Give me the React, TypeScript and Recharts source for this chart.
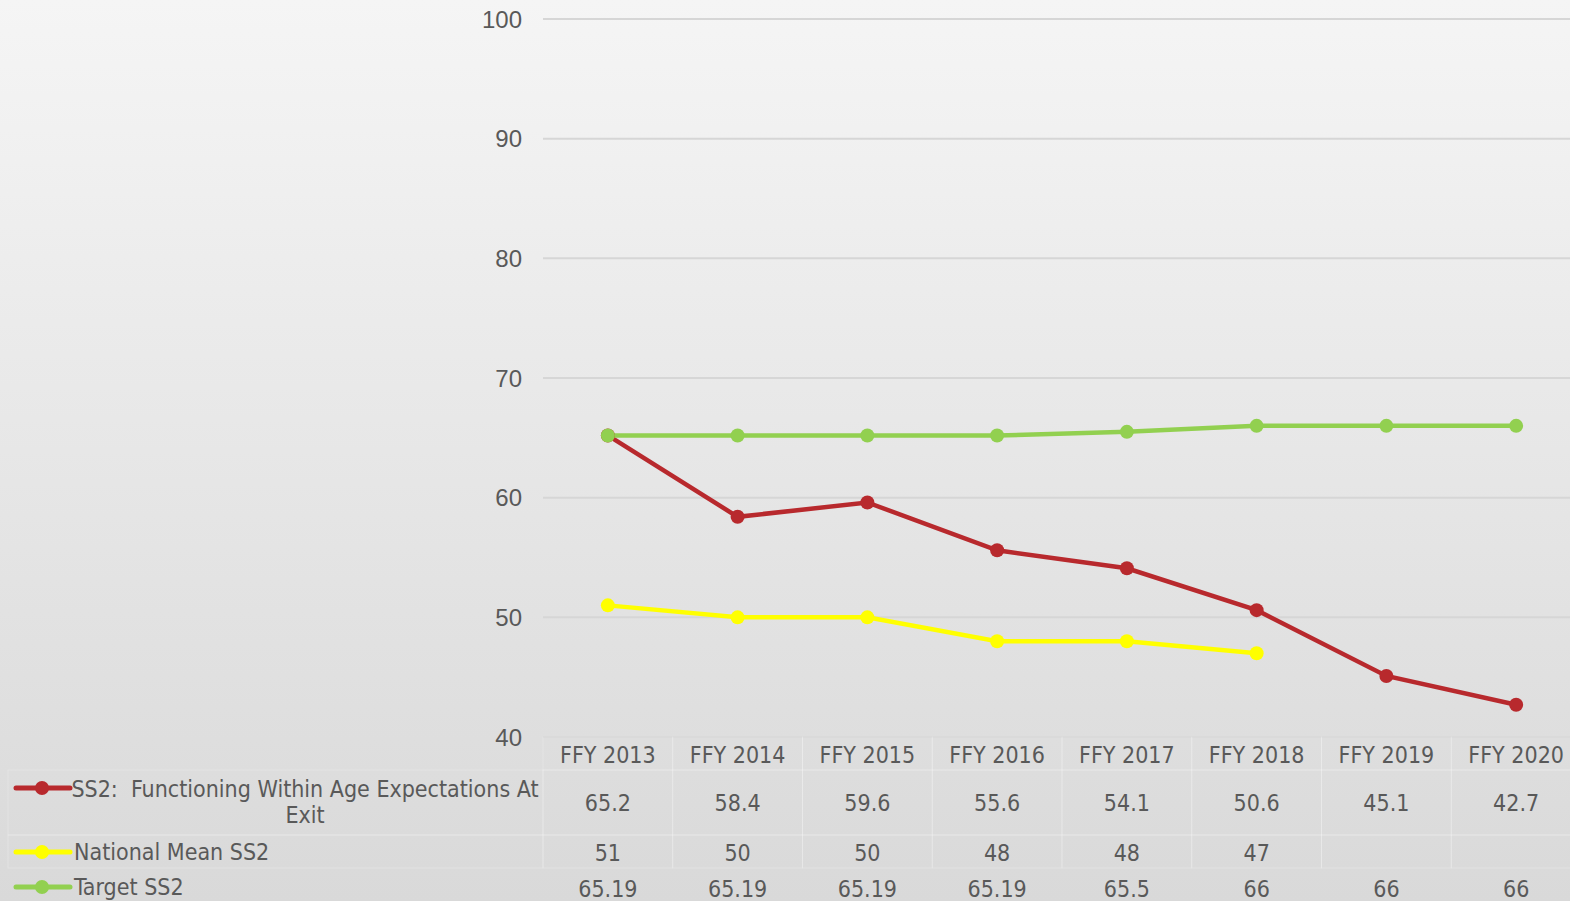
import { LineChart, Line, XAxis, YAxis, CartesianGrid, Customized } from "recharts";

const years = ["FFY 2013", "FFY 2014", "FFY 2015", "FFY 2016", "FFY 2017", "FFY 2018", "FFY 2019", "FFY 2020"];
const ss2Exit = [65.2, 58.4, 59.6, 55.6, 54.1, 50.6, 45.1, 42.7];
const nationalMean: (number | null)[] = [51, 50, 50, 48, 48, 47, null, null];
const targetSS2 = [65.19, 65.19, 65.19, 65.19, 65.5, 66, 66, 66];
const yTicks = [40, 50, 60, 70, 80, 90, 100];

const RED = "#b8292d";
const YELLOW = "#ffff00";
const GREEN = "#92d050";
const TEXT = "#595959";
const TABLE_FONT = "'DejaVu Sans Condensed', 'Liberation Sans', sans-serif";
const CELL_LINE = "rgba(255,255,255,0.22)";
const COL_W = 129.7;

const data = years.map((y, i) => ({
  name: y,
  ss2: ss2Exit[i],
  nat: nationalMean[i],
  target: targetSS2[i],
}));

const fmt = (v: number | null) => (v == null ? "" : String(v));

// category label + data table cells, positioned by the x scale
const TableTick = (props: any) => {
  const { x, y, payload } = props;
  const i = payload.index;
  const w = COL_W;
  return (
    <g fontFamily={TABLE_FONT} fontSize={23} fill={TEXT}>
      <rect x={x - w / 2} y={y} width={w} height={33} fill="none" stroke={CELL_LINE} />
      <rect x={x - w / 2} y={y + 33} width={w} height={65} fill="none" stroke={CELL_LINE} />
      <rect x={x - w / 2} y={y + 98} width={w} height={33} fill="none" stroke={CELL_LINE} />
      <text x={x} y={y + 18} textAnchor="middle" dominantBaseline="central" fill={TEXT}>{payload.value}</text>
      <text x={x} y={y + 66} textAnchor="middle" dominantBaseline="central" fill={TEXT}>{fmt(ss2Exit[i])}</text>
      <text x={x} y={y + 116} textAnchor="middle" dominantBaseline="central" fill={TEXT}>{fmt(nationalMean[i])}</text>
      <text x={x} y={y + 152} textAnchor="middle" dominantBaseline="central" fill={TEXT}>{fmt(targetSS2[i])}</text>
    </g>
  );
};

const LegendKey = ({ y, color }: { y: number; color: string }) => (
  <g>
    <line x1={16} x2={70} y1={y} y2={y} stroke={color} strokeWidth={5} strokeLinecap="round" />
    <circle cx={42} cy={y} r={7} fill={color} />
  </g>
);

const TableLegend = () => (
  <g fontFamily={TABLE_FONT} fontSize={23} fill={TEXT}>
    <rect x={8} y={770} width={535} height={65} fill="none" stroke={CELL_LINE} />
    <rect x={8} y={835} width={535} height={33} fill="none" stroke={CELL_LINE} />
    <LegendKey y={788} color={RED} />
    <LegendKey y={852} color={YELLOW} />
    <LegendKey y={887} color={GREEN} />
    <text x={305} y={789} textAnchor="middle" dominantBaseline="central" fill={TEXT} xmlSpace="preserve">
      SS2:  Functioning Within Age Expectations At
    </text>
    <text x={305} y={815} textAnchor="middle" dominantBaseline="central" fill={TEXT}>Exit</text>
    <text x={74} y={852} dominantBaseline="central" fill={TEXT}>National Mean SS2</text>
    <text x={74} y={887} dominantBaseline="central" fill={TEXT}>Target SS2</text>
  </g>
);

export default function App() {
  return (
    <div
      style={{
        position: "absolute",
        left: 0,
        top: 0,
        width: 1570,
        height: 901,
        overflow: "hidden",
        background: "linear-gradient(to bottom, #f5f5f5 0%, #d9d9d9 100%)",
      }}
    >
      <LineChart
        width={1600}
        height={901}
        data={data}
        margin={{ top: 19, right: 19, bottom: 0, left: 0 }}
      >
        <CartesianGrid vertical={false} stroke="#d6d6d6" strokeWidth={2} />
        <XAxis
          dataKey="name"
          axisLine={false}
          tickLine={false}
          tickSize={0}
          tickMargin={0}
          height={164}
          interval={0}
          padding={{ left: COL_W / 2, right: COL_W / 2 }}
          tick={<TableTick />}
        />
        <YAxis
          domain={[40, 100]}
          ticks={yTicks}
          width={543}
          axisLine={false}
          tickLine={false}
          tickMargin={15}
          tick={{ fill: TEXT, fontSize: 24, fontFamily: "'Liberation Sans', sans-serif" }}
        />
        <Line
          dataKey="ss2"
          stroke={RED}
          strokeWidth={4.5}
          dot={{ r: 7, fill: RED, stroke: RED, strokeWidth: 0 }}
          isAnimationActive={false}
        />
        <Line
          dataKey="nat"
          stroke={YELLOW}
          strokeWidth={4.5}
          dot={{ r: 7, fill: YELLOW, stroke: YELLOW, strokeWidth: 0 }}
          isAnimationActive={false}
        />
        <Line
          dataKey="target"
          stroke={GREEN}
          strokeWidth={4.5}
          dot={{ r: 7, fill: GREEN, stroke: GREEN, strokeWidth: 0 }}
          isAnimationActive={false}
        />
        <Customized component={<TableLegend />} />
      </LineChart>
    </div>
  );
}
